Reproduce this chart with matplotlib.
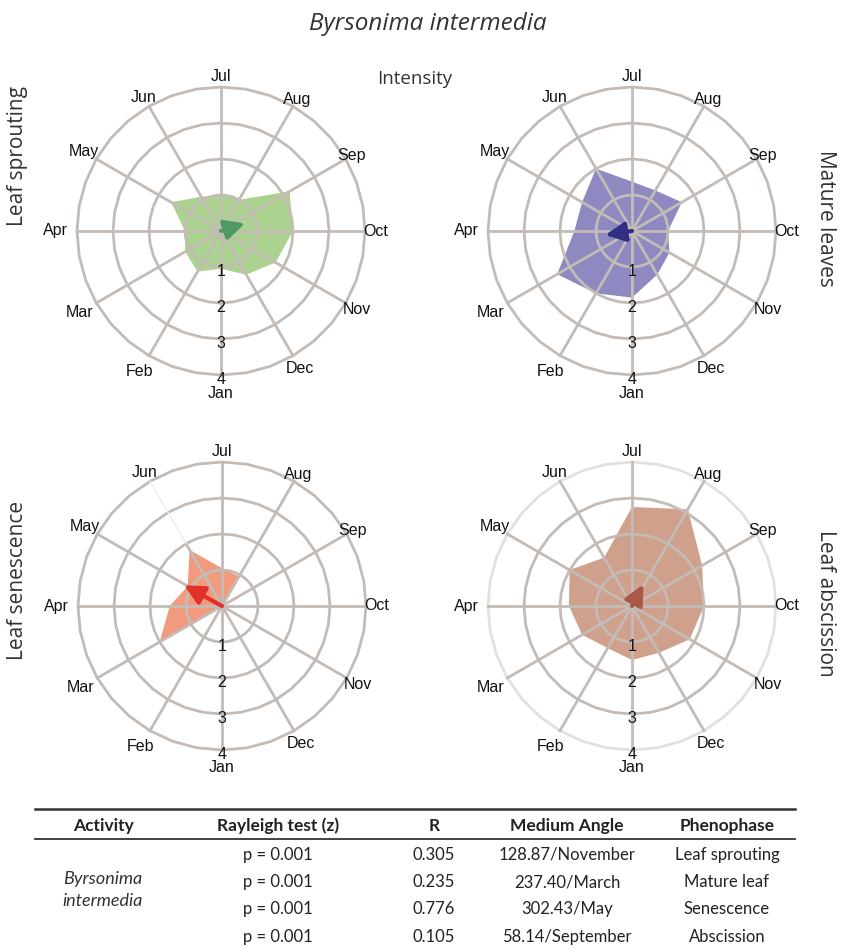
import numpy as np
import matplotlib
matplotlib.use("Agg")
import matplotlib.pyplot as plt

W, H = 841, 949

months = ["Jan", "Feb", "Mar", "Apr", "May", "Jun",
          "Jul", "Aug", "Sep", "Oct", "Nov", "Dec"]

# intensity per month (Jan..Dec)
sprouting = [1.05, 1.3, 1.15, 1.0, 1.6, 1.1, 1.0, 1.0, 2.2, 2.0, 1.75, 1.4]
mature = [1.85, 2.0, 2.4, 1.6, 1.6, 2.0, 1.37, 1.3, 1.6, 1.0, 1.2, 1.4]
senescence = [0, 0, 2.0, 1.45, 1.1, 1.8, 1.05, 0.95, 0, 0, 0, 0]
abscission = [1.5, 1.35, 1.6, 1.75, 2.0, 1.55, 2.75, 3.1, 2.25, 2.0, 1.85, 1.5]

# mean vector drawn in each plot: angle (deg, Jan=0, clockwise) and length
arrow_angle = [252.3, 81.5, 118.7, 208.0]
arrow_len = [0.7, 0.75, 1.2, 0.68]

panel_names = ["Leaf sprouting", "Mature leaves", "Leaf senescence", "Leaf abscission"]
radial_ticks = [1, 2, 3, 4]

# table
tbl_header = ["Activity", "Rayleigh test (z)", "R", "Medium Angle", "Phenophase"]
tbl_species = "Byrsonima\nintermedia"
tbl_rayleigh = ["p = 0.001", "p = 0.001", "p = 0.001", "p = 0.001"]
tbl_r = ["0.305", "0.235", "0.776", "0.105"]
tbl_angle = ["128.87/November", "237.40/March", "302.43/May", "58.14/September"]
tbl_phase = ["Leaf sprouting", "Mature leaf", "Senescence", "Abscission"]

fills = ["#acd290", "#8e89c0", "#f29a7e", "#cfa08c"]
arrows = ["#4f9a63", "#2f2f85", "#e2302a", "#a95a46"]
grid_c = "#c3bbb6"
label_r = [4.5, 4.5, 4.55, 4.6, 4.4, 4.28, 4.28, 4.22, 4.2, 4.3, 4.35, 4.4]


def fx(x):
    return x / W


def fy(y):
    return 1 - y / H


fig = plt.figure(figsize=(W / 100, H / 100), dpi=100)

centers = [(221, 231), (632, 231), (222, 606), (632, 606)]
R_PX = 144
theta = np.deg2rad(np.arange(12) * 30.0)

for i, (cx, cy) in enumerate(centers):
    ax = fig.add_axes((fx(cx - R_PX), fy(cy + R_PX), 2 * R_PX / W, 2 * R_PX / H),
                      projection="polar")
    ax.set_theta_zero_location("S")
    ax.set_theta_direction(-1)
    ax.set_ylim(0, 4)
    ax.set_axis_off()

    vals = [sprouting, mature, senescence, abscission][i]
    ax.fill(np.append(theta, theta[0]), np.append(vals, vals[0]),
            color=fills[i], lw=0, zorder=1)

    # polygon rings and spokes on top of the fill
    ring_t = np.deg2rad(np.linspace(0, 360, 37))
    for r in radial_ticks:
        c = "#e4e0dd" if (i == 3 and r == 4) else grid_c
        ax.plot(ring_t, np.full_like(ring_t, r), color=c, lw=2, zorder=2,
                solid_joinstyle="round", clip_on=False)
    for k, t in enumerate(theta):
        if i == 2 and k == 5:
            ax.plot([t, t], [0, 2], color=grid_c, lw=2, zorder=2, clip_on=False)
            ax.plot([t, t], [2, 4], color="#eeeeee", lw=1, zorder=2, clip_on=False)
        else:
            ax.plot([t, t], [0, 4], color=grid_c, lw=2, zorder=2, clip_on=False)

    a = np.deg2rad(arrow_angle[i])
    ax.annotate("", xy=(a, arrow_len[i]), xytext=(a, 0.0),
                arrowprops=dict(arrowstyle="-|>,head_length=0.85,head_width=0.42",
                                color=arrows[i], lw=3.0, mutation_scale=14,
                                shrinkA=0, shrinkB=0),
                zorder=3)

    for k, m in enumerate(months):
        ax.text(theta[k], label_r[k], m, ha="center", va="center",
                fontsize=11.5, family="Liberation Sans", color="#111111")
    for r in radial_ticks:
        ax.text(0, r + 0.13, str(r), ha="center", va="center",
                fontsize=11.5, family="Liberation Sans", color="#111111", zorder=4)

fig.text(fx(428), fy(24), "Byrsonima intermedia", ha="center", va="center",
         fontsize=17.5, style="italic", family="Open Sans", color="#333333")
fig.text(fx(415), fy(79), "Intensity", ha="center", va="center",
         fontsize=13.5, family="Open Sans", color="#333333")

side_pos = [(18, 156, 90), (826, 218, 270), (18, 580, 90), (826, 603, 270)]
for name, (x, y, rot) in zip(panel_names, side_pos):
    fig.text(fx(x), fy(y), name, ha="center", va="center", rotation=rot,
             fontsize=15, family="Open Sans", color="#333333")

# table
fig.add_artist(plt.Line2D([fx(35), fx(795)], [fy(809), fy(809)], color="#333333", lw=1.8))
fig.add_artist(plt.Line2D([fx(35), fx(795)], [fy(839), fy(839)], color="#333333", lw=1.3))

col_x = [103, 278, 434, 567, 727]
for x, h in zip(col_x, tbl_header):
    fig.text(fx(x), fy(826), h, ha="center", va="center", fontsize=12.5,
             weight="bold", family="Lato", color="#222222")

row_y = [855, 882, 909, 937]
fig.text(fx(103), fy(890), tbl_species, ha="center", va="center", fontsize=13,
         style="italic", family="Lato", color="#333333", linespacing=1.45)
for y, rz, rv, an, ph in zip(row_y, tbl_rayleigh, tbl_r, tbl_angle, tbl_phase):
    for x, s in zip(col_x[1:], [rz, rv, an, ph]):
        fig.text(fx(x), fy(y), s, ha="center", va="center", fontsize=12,
                 family="Lato", color="#222222")

fig.savefig("out.png", dpi=100)
